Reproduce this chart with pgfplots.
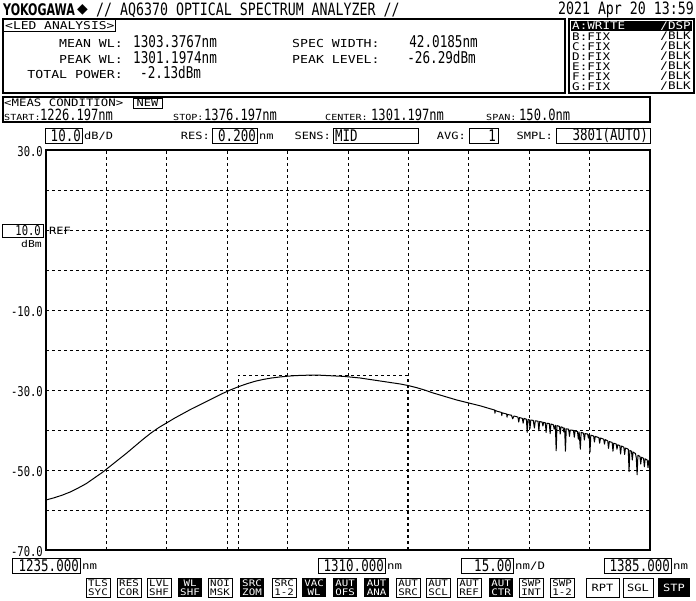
\documentclass[border=0pt]{standalone}
\usepackage{pgfplots}
\pgfplotsset{compat=1.18}
\usepackage{fontspec}
\setmainfont{DejaVu Sans}
\newfontfamily\lab[FakeStretch=1.2]{DejaVu Sans Mono}
\newfontfamily\mono[FakeStretch=0.78]{DejaVu Sans Mono}
\newfontfamily\yk[FakeStretch=0.69]{DejaVu Sans}
\newcommand{\lbl}[2][11]{{\lab\fontsize{#1}{#1}\selectfont #2}}
\newcommand{\mn}[2]{{\mono\fontsize{#1}{#1}\selectfont #2}}
\newcommand{\btn}[4]{%
  \draw[line width=0.8pt] (#1,578) rectangle (#2,597);
  \node[align=center,inner sep=0,font={\lab\fontsize{9}{8.4}\selectfont}] at ({(#1+#2)/2},587.8) {#3\\#4};}
\newcommand{\ibtn}[4]{%
  \fill (#1,578) rectangle (#2,597);
  \node[align=center,inner sep=0,text=white,font={\lab\fontsize{9}{8.4}\selectfont}] at ({(#1+#2)/2},587.8) {#3\\#4};}
\begin{document}
\begin{tikzpicture}
\begin{axis}[
  at={(46pt,-150pt)}, anchor=north west,
  width=604pt, height=400pt, scale only axis,
  xmin=1235, xmax=1385, ymin=-70, ymax=30,
  xtick={1250,1265,...,1370}, ytick={-60,-50,...,20},
  xticklabels={}, yticklabels={},
  major tick length=0pt,
  xmajorgrids, ymajorgrids,
  grid style={black, line width=0.8pt, dash pattern=on 3pt off 3pt},
  axis line style={line width=2.6pt},
  clip=false,
]
\addplot[black, line width=1pt, line join=round] coordinates {
(1235,-57.5) (1237,-56.95) (1239,-56.3) (1241,-55.5) (1243,-54.5) (1245,-53.4)
(1247,-52.0) (1249,-50.6) (1251,-49.0) (1253,-47.4) (1255,-45.8) (1257,-44.1)
(1259,-42.4) (1261,-40.8) (1263,-39.4) (1265,-38.2) (1267,-37.0) (1269,-35.9)
(1271,-34.8) (1273,-33.8) (1275,-32.8) (1277,-31.8) (1279,-30.8) (1281,-29.9)
(1283,-29.1) (1285,-28.4) (1287,-27.8) (1289,-27.35) (1291,-27.0) (1293,-26.75)
(1295,-26.55) (1297,-26.4) (1299,-26.32) (1301,-26.29) (1303,-26.3) (1305,-26.4)
(1307,-26.5) (1309,-26.6) (1311,-26.8) (1313,-27.0) (1315,-27.3) (1317,-27.6)
(1319,-27.9) (1321,-28.2) (1323,-28.5) (1325,-28.9) (1327,-29.4) (1329,-30.0)
(1331,-30.7) (1333,-31.3) (1335,-31.9) (1337,-32.5) (1339,-33.0) (1341,-33.5)
(1343,-34.0) (1345,-34.6) (1346.4,-35.0) (1346.5,-35.8) (1346.6,-35.1) (1347,-35.3)
(1348.1,-35.6) (1348.2,-36.4) (1348.3,-35.7) (1349,-35.9) (1349.4,-36.0) (1349.5,-36.8) (1349.6,-36.1)
(1350,-36.2) (1350.6,-36.3) (1350.9,-37.2) (1351.2,-36.5) (1352,-36.7)
(1352.2,-36.8) (1352.4,-38.0) (1352.6,-36.9) (1353,-37.0) (1353.3,-37.1)
(1353.5,-38.3) (1353.7,-37.1) (1354.3,-37.3) (1354.5,-40.6) (1354.7,-37.4)
(1355.0,-37.4) (1355.2,-39.6) (1355.4,-37.5) (1356.0,-37.6) (1356.3,-39.5)
(1356.5,-37.7) (1357.2,-37.8) (1357.4,-40.2) (1357.6,-37.9) (1358.2,-38.0)
(1358.4,-39.0) (1358.6,-38.1) (1359.0,-38.2) (1359.2,-40.6) (1359.4,-38.3)
(1360.0,-38.4) (1360.2,-40.9) (1360.4,-38.5) (1361.0,-38.7) (1361.2,-39.8)
(1361.5,-38.8) (1361.7,-45.2) (1361.9,-38.9) (1362.5,-39.1) (1362.7,-41.0)
(1362.9,-39.2) (1363.4,-39.4) (1363.6,-40.5) (1363.8,-39.5) (1364.0,-45.3)
(1364.2,-39.7) (1364.8,-39.8) (1365.0,-41.6) (1365.2,-40.0) (1366.0,-40.1)
(1366.2,-41.8) (1366.4,-40.2) (1367.0,-40.4) (1367.2,-42.3) (1367.4,-40.5)
(1367.7,-44.8) (1367.9,-40.6) (1368.5,-40.8) (1368.7,-42.5) (1368.9,-40.9)
(1369.5,-41.0) (1369.7,-42.0) (1369.9,-41.1) (1370.1,-45.5) (1370.3,-41.3)
(1371.0,-41.5) (1371.2,-43.0) (1371.4,-41.6) (1372.3,-41.9) (1372.5,-43.3)
(1372.7,-42.0) (1373.5,-42.3) (1373.7,-43.5) (1373.9,-42.4) (1374.5,-42.7)
(1374.7,-44.6) (1374.9,-42.9) (1375.6,-43.1) (1375.8,-45.3) (1376.0,-43.3)
(1376.6,-43.5) (1376.8,-44.8) (1377.0,-43.7) (1377.5,-43.9) (1377.7,-46.0)
(1377.9,-44.0) (1378.5,-44.3) (1378.7,-46.1) (1378.9,-44.5) (1379.6,-44.8)
(1379.8,-50.4) (1380.0,-45.1) (1380.4,-45.3) (1380.6,-47.5) (1380.8,-45.5)
(1381.4,-45.9) (1381.6,-47.0) (1381.8,-51.2) (1382.0,-46.3) (1382.5,-46.6)
(1382.7,-48.5) (1382.9,-46.8) (1383.4,-47.1) (1383.6,-49.2) (1383.8,-47.2)
(1384.3,-47.5) (1384.5,-49.4) (1384.7,-47.6) (1385.0,-47.9)
};
\draw[line width=0.8pt, dash pattern=on 3pt off 3pt]
  (axis cs:1282.7,-70) -- (axis cs:1282.7,-26.3) -- (axis cs:1324.7,-26.3) -- (axis cs:1324.7,-70);
\end{axis}
\begin{scope}[x=1pt,y=-1pt]
% title row
\node[anchor=west,inner sep=0] at (3,10) {\yk\bfseries\fontsize{16}{16}\selectfont YOKOGAWA};
\node[anchor=west,inner sep=0] at (77,10) {\fontsize{14}{14}\selectfont ◆};
\node[anchor=west,inner sep=0] at (96,10) {\mn{17}{// AQ6370 OPTICAL SPECTRUM ANALYZER //}};
\node[anchor=east,inner sep=0] at (694,10) {\mn{17}{2021 Apr 20 13:59}};
% LED analysis box
\draw[line width=1.2pt] (3,19) rectangle (565,93);
\draw[line width=1pt] (3,31.5) -- (115,31.5) -- (115,19);
\node[anchor=west,inner sep=0] at (5,25.5) {\lbl[10.8]{<LED ANALYSIS>}};
\node[anchor=base east,inner sep=0] at (123,47.5) {\lbl{MEAN WL:}};
\node[anchor=base west,inner sep=0] at (133,47.5) {\mn{16.2}{1303.3767nm}};
\node[anchor=base east,inner sep=0] at (123,63) {\lbl{PEAK WL:}};
\node[anchor=base west,inner sep=0] at (133,63) {\mn{16.2}{1301.1974nm}};
\node[anchor=base east,inner sep=0] at (123,78.5) {\lbl{TOTAL POWER:}};
\node[anchor=base west,inner sep=0] at (140,78.5) {\mn{16.2}{-2.13dBm}};
\node[anchor=base west,inner sep=0] at (292,47.5) {\lbl{SPEC WIDTH:}};
\node[anchor=base east,inner sep=0] at (478,47.5) {\mn{16.2}{42.0185nm}};
\node[anchor=base west,inner sep=0] at (292,63) {\lbl{PEAK LEVEL:}};
\node[anchor=base east,inner sep=0] at (476,63) {\mn{16.2}{-26.29dBm}};
% trace box
\draw[line width=1.2pt] (569,19) rectangle (694,93);
\fill (571,21) rectangle (692,31);
\node[anchor=west,inner sep=0,text=white] at (572,26) {\lbl[10.5]{A:WRITE}};
\node[anchor=east,inner sep=0,text=white] at (691,26) {\lbl[10.5]{/DSP}};
\foreach \r/\yy in {B/36.5,C/46.5,D/56.5,E/66.5,F/76.5,G/86.5}{
  \node[anchor=west,inner sep=0] at (572,\yy) {\lbl[10.5]{\r:FIX}};
  \node[anchor=east,inner sep=0] at (691,\yy) {\lbl[10.5]{/BLK}};
}
% meas condition box
\draw[line width=1.2pt] (3,97) rectangle (650,122);
\node[anchor=west,inner sep=0] at (4,103) {\lbl[10.3]{<MEAS CONDITION>}};
\draw[line width=0.9pt] (133,98.5) rectangle (162,108);
\node[inner sep=0] at (147.5,103.3) {\lbl[10]{NEW}};
\node[anchor=base west,inner sep=0] at (4,120) {\lbl[8.4]{START:}};
\node[anchor=base west,inner sep=0] at (40,120) {\mn{15.5}{1226.197nm}};
\node[anchor=base west,inner sep=0] at (173,120) {\lbl[8.4]{STOP:}};
\node[anchor=base west,inner sep=0] at (204,120) {\mn{15.5}{1376.197nm}};
\node[anchor=base west,inner sep=0] at (325,120) {\lbl[8.4]{CENTER:}};
\node[anchor=base west,inner sep=0] at (371,120) {\mn{15.5}{1301.197nm}};
\node[anchor=base west,inner sep=0] at (486,120) {\lbl[8.4]{SPAN:}};
\node[anchor=base west,inner sep=0] at (519,120) {\mn{15.5}{150.0nm}};
% settings row
\draw[line width=1pt] (45,128) rectangle (82,143);
\node[anchor=east,inner sep=0] at (81,135.5) {\mn{16}{10.0}};
\node[anchor=west,inner sep=0] at (84,136) {\lbl[10]{dB/D}};
\node[anchor=east,inner sep=0] at (210,136) {\lbl[10]{RES:}};
\draw[line width=1pt] (212,128) rectangle (257,143);
\node[anchor=east,inner sep=0] at (256,135.5) {\mn{16}{0.200}};
\node[anchor=west,inner sep=0] at (259,136.5) {\lbl[10]{nm}};
\node[anchor=east,inner sep=0] at (331,136) {\lbl[10]{SENS:}};
\draw[line width=1pt] (333,128) rectangle (418,143);
\node[anchor=west,inner sep=0] at (335,135.5) {\mn{16}{MID}};
\node[anchor=east,inner sep=0] at (466,136) {\lbl[10]{AVG:}};
\draw[line width=1pt] (469,128) rectangle (498,143);
\node[anchor=east,inner sep=0] at (496,135.5) {\mn{16}{1}};
\node[anchor=east,inner sep=0] at (553,136) {\lbl[10]{SMPL:}};
\draw[line width=1pt] (556,128) rectangle (650,143);
\node[anchor=east,inner sep=0] at (648,135.5) {\mn{16}{3801(AUTO)}};
% y labels
\node[anchor=east,inner sep=0] at (43,152) {\mn{13.5}{30.0}};
\node[anchor=east,inner sep=0] at (43,312) {\mn{13.5}{-10.0}};
\node[anchor=east,inner sep=0] at (43,392) {\mn{13.5}{-30.0}};
\node[anchor=east,inner sep=0] at (43,472) {\mn{13.5}{-50.0}};
\node[anchor=east,inner sep=0] at (43,551.5) {\mn{13.5}{-70.0}};
\draw[line width=1pt] (2,224) rectangle (43,237.5);
\node[anchor=east,inner sep=0] at (41,230.8) {\mn{13.5}{10.0}};
\node[anchor=east,inner sep=0] at (42,243.5) {\lbl[9.5]{dBm}};
\node[anchor=west,inner sep=0] at (49,230.5) {\lbl[10]{REF}};
% bottom x labels
\draw[line width=1pt] (12,558) rectangle (80,573);
\node[anchor=east,inner sep=0] at (79,565.5) {\mn{16}{1235.000}};
\node[anchor=west,inner sep=0] at (82,566.5) {\lbl[10.3]{nm}};
\draw[line width=1pt] (318,558) rectangle (385,573);
\node[anchor=east,inner sep=0] at (384,565.5) {\mn{16}{1310.000}};
\node[anchor=west,inner sep=0] at (387,566.5) {\lbl[10.3]{nm}};
\draw[line width=1pt] (461,558) rectangle (513,573);
\node[anchor=east,inner sep=0] at (512,565.5) {\mn{16}{15.00}};
\node[anchor=west,inner sep=0] at (515,566.5) {\lbl[10.3]{nm/D}};
\draw[line width=1pt] (604,558) rectangle (671,573);
\node[anchor=east,inner sep=0] at (670,565.5) {\mn{16}{1385.000}};
\node[anchor=west,inner sep=0] at (673,566.5) {\lbl[10.3]{nm}};
% buttons
\btn{86}{110}{TLS}{SYC}
\btn{117}{141}{RES}{COR}
\btn{147}{171}{LVL}{SHF}
\ibtn{178}{202}{WL}{SHF}
\btn{208}{232}{NOI}{MSK}
\ibtn{240}{264}{SRC}{ZOM}
\btn{272}{296}{SRC}{1-2}
\ibtn{302}{326}{VAC}{WL}
\ibtn{333}{357}{AUT}{OFS}
\ibtn{364}{389}{AUT}{ANA}
\btn{396}{420}{AUT}{SRC}
\btn{426}{450}{AUT}{SCL}
\btn{457}{481}{AUT}{REF}
\ibtn{489}{513}{AUT}{CTR}
\btn{519}{543}{SWP}{INT}
\btn{550}{574}{SWP}{1-2}
\draw[line width=0.8pt] (586,578) rectangle (619,597);
\node[inner sep=0] at (602.5,587.5) {\lbl[10]{RPT}};
\draw[line width=0.8pt] (623,578) rectangle (653,597);
\node[inner sep=0] at (638,587.5) {\lbl[10]{SGL}};
\fill (658,578) rectangle (690,597);
\node[inner sep=0,text=white] at (674,587.5) {\lbl[10]{STP}};
\pgfresetboundingbox
\useasboundingbox (0,0) rectangle (696,600);
\end{scope}
\end{tikzpicture}
\end{document}
